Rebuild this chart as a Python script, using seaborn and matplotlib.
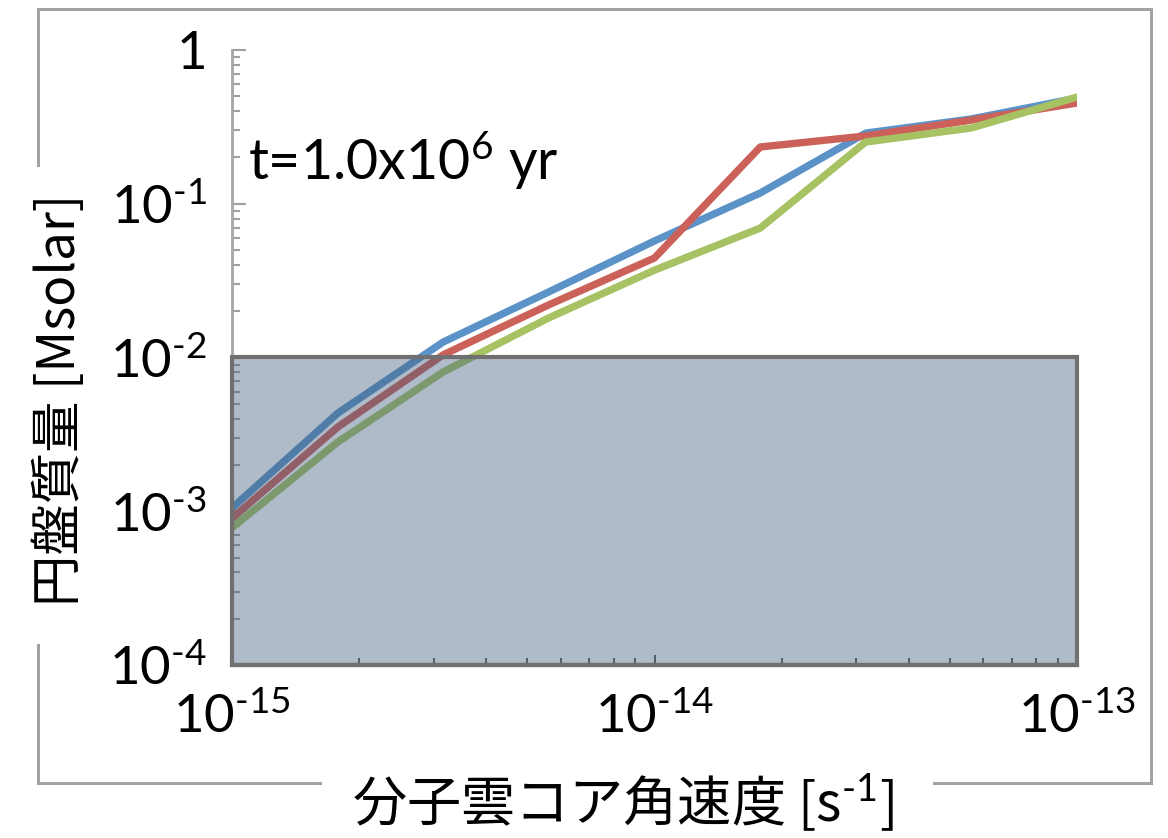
import numpy as np
import pandas as pd
import matplotlib
matplotlib.use("Agg")
import matplotlib.pyplot as plt
from matplotlib.patches import Rectangle
from matplotlib.lines import Line2D
from matplotlib.ticker import LogLocator, NullFormatter
import seaborn as sns

# ---- data ----
omega = [1.0e-15, 1.78e-15, 3.16e-15, 5.62e-15, 1.0e-14, 1.78e-14, 3.16e-14, 5.62e-14, 1.0e-13]
mass_blue = [1.05e-3, 4.35e-3, 0.0126, 0.0267, 0.0573, 0.1175, 0.288, 0.356, 0.487]
mass_red = [0.00090, 0.00353, 0.0104, 0.0220, 0.0444, 0.234, 0.276, 0.350, 0.452]
mass_green = [0.00078, 0.00282, 0.00805, 0.0181, 0.0370, 0.0695, 0.252, 0.311, 0.494]
series_names = ["A", "B", "C"]
series_colors = ["#5B93C8", "#CC6159", "#A6C262"]

xticks = [1e-15, 1e-14, 1e-13]
xtick_labels = [r"$10^{\text{-15}}$", r"$10^{\text{-14}}$", r"$10^{\text{-13}}$"]
yticks = [1e-4, 1e-3, 1e-2, 1e-1, 1.0]
ytick_labels = [r"$10^{\text{-4}}$", r"$10^{\text{-3}}$", r"$10^{\text{-2}}$", r"$10^{\text{-1}}$", "1"]

region_x = [1e-15, 1e-13]
region_y = [1e-4, 1e-2]

xlabel = r"分子雲コア角速度 [s$^{\text{-1}}$]"
ylabel = "円盤質量 [Msolar]"
annotation = r"t=1.0x10$^{\text{6}}$ yr"

df = pd.concat([
    pd.DataFrame({"omega": omega, "mass": m, "series": n})
    for m, n in zip([mass_blue, mass_red, mass_green], series_names)
], ignore_index=True)

sns.set_theme(style="white")
plt.rcParams["font.family"] = ["Lato", "Noto Sans CJK JP", "DejaVu Sans"]
plt.rcParams["mathtext.fontset"] = "custom"
plt.rcParams["mathtext.rm"] = "Lato"
plt.rcParams["mathtext.it"] = "Lato:italic"
plt.rcParams["mathtext.bf"] = "Lato:bold"

W, H = 1168, 838
fig = plt.figure(figsize=(W / 100, H / 100), dpi=100)
fig.patch.set_facecolor("white")

ax_l, ax_r, ax_t, ax_b = 232, 1077, 50, 665
ax = fig.add_axes([ax_l / W, 1 - ax_b / H, (ax_r - ax_l) / W, (ax_b - ax_t) / H])
ax.set_facecolor("none")

sns.lineplot(data=df, x="omega", y="mass", hue="series", palette=series_colors,
             hue_order=series_names, estimator=None, sort=False, legend=False,
             linewidth=5.3, ax=ax, zorder=2)

ax.set_xscale("log")
ax.set_yscale("log")
ax.set_xlim(region_x[0], region_x[1])
ax.set_ylim(1e-4, 1.0)

# shaded region
rect = Rectangle((region_x[0], region_y[0]), region_x[1] - region_x[0], region_y[1] - region_y[0],
                 facecolor=(0.26, 0.37, 0.49, 0.42), edgecolor="#707070", linewidth=3,
                 zorder=3, clip_on=False)
ax.add_patch(rect)

# spines
for s in ["top", "right"]:
    ax.spines[s].set_visible(False)
ax.spines["left"].set_color("#a6a6a6")
ax.spines["left"].set_linewidth(2)
ax.spines["bottom"].set_color("#707070")
ax.spines["bottom"].set_linewidth(3)

# ticks
ax.set_xticks(xticks, xtick_labels)
ax.set_yticks(yticks, ytick_labels)
ax.xaxis.set_minor_locator(LogLocator(base=10, subs=range(2, 10)))
ax.yaxis.set_minor_locator(LogLocator(base=10, subs=range(2, 10)))
ax.xaxis.set_minor_formatter(NullFormatter())
ax.yaxis.set_minor_formatter(NullFormatter())
ax.tick_params(axis="x", which="major", direction="in", length=7, width=1.5, color="#606060",
               labelsize=38, pad=20, bottom=True)
ax.tick_params(axis="x", which="minor", direction="in", length=5, width=1.5, color="#606060",
               bottom=True)
ax.tick_params(axis="y", which="major", direction="in", length=10, width=1.5, color="#a0a0a0",
               labelsize=38, pad=18, left=True)
ax.tick_params(axis="y", which="minor", direction="in", length=6, width=1.5, color="#a0a0a0",
               left=True)
for t in ax.get_xticklabels() + ax.get_yticklabels():
    t.set_color("black")

# axis labels
ax.set_xlabel(xlabel, fontsize=39, family=["Noto Sans CJK JP", "DejaVu Sans"], color="black")
ax.set_ylabel(ylabel, fontsize=37, family=["Noto Sans CJK JP", "DejaVu Sans"], color="black")
ax.xaxis.set_label_coords((623 - ax_l) / (ax_r - ax_l), (ax_b - 803) / (ax_b - ax_t))
ax.yaxis.set_label_coords((60 - ax_l) / (ax_r - ax_l), (ax_b - 400) / (ax_b - ax_t))
ax.xaxis.label.set_va("center")
ax.yaxis.label.set_va("center")

# annotation
ax.text((248 - ax_l) / (ax_r - ax_l), (ax_b - 180) / (ax_b - ax_t), annotation,
        transform=ax.transAxes, fontsize=40, ha="left", va="baseline", color="black")

# outer frame with gaps for the labels
fl, fr, ft, fb = 38, 1151, 9, 783
frame_color = "#a3a3a3"
frame_lw = 2.2
segs = [
    [(fl, fr), (ft, ft)],          # top
    [(fr, fr), (ft, fb)],          # right
    [(fl, 320), (fb, fb)],         # bottom-left part
    [(934, fr), (fb, fb)],         # bottom-right part
    [(fl, fl), (ft, 165)],         # left-top part
    [(fl, fl), (645, fb)],         # left-bottom part
]
for xs, ys in segs:
    fig.add_artist(Line2D([x / W for x in xs], [1 - y / H for y in ys],
                          transform=fig.transFigure, color=frame_color, lw=frame_lw,
                          solid_capstyle="projecting"))

fig.savefig("out.png", dpi=100, facecolor="white")
